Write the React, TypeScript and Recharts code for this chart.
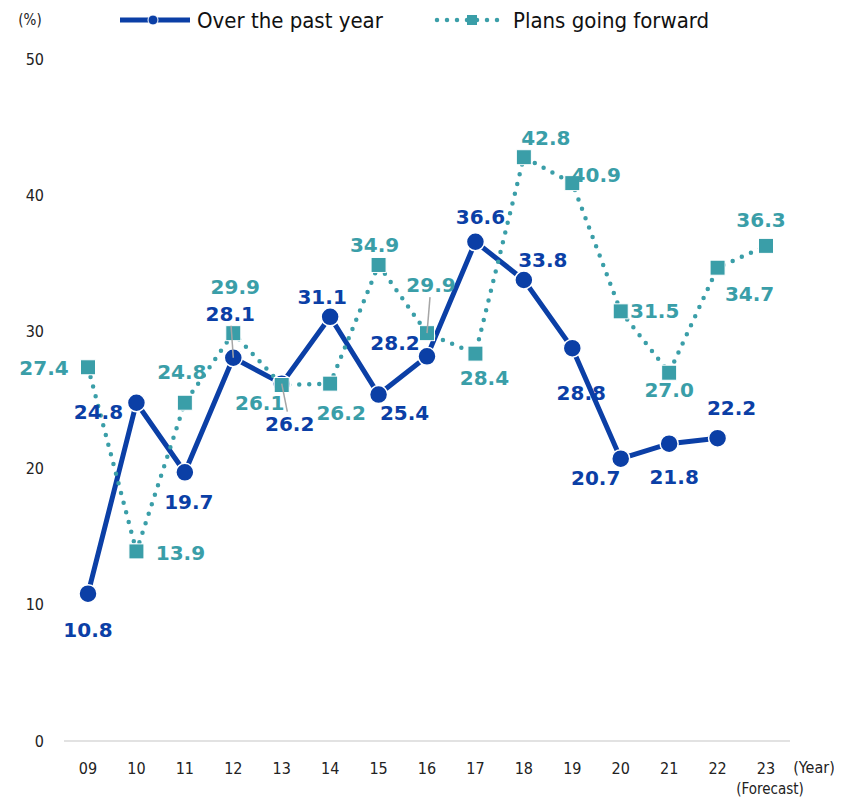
import { LineChart, Line, XAxis, YAxis, LabelList } from "recharts";

const years = ["09", "10", "11", "12", "13", "14", "15", "16", "17", "18", "19", "20", "21", "22", "23"];
const pastYear = [10.8, 24.8, 19.7, 28.1, 26.2, 31.1, 25.4, 28.2, 36.6, 33.8, 28.8, 20.7, 21.8, 22.2, null];
const goingForward = [27.4, 13.9, 24.8, 29.9, 26.1, 26.2, 34.9, 29.9, 28.4, 42.8, 40.9, 31.5, 27.0, 34.7, 36.3];
const yTicks = [0, 10, 20, 30, 40, 50];

// label placement relative to the point [dx, dy, leader line]
const pastLabelPos: [number, number, boolean][] = [
    [0, 36, false], [-38, 9, false], [4, 30, false], [-3, -44, true], [8, 40, true],
    [-8, -20, false], [26, 18, false], [-32, -13, false], [5, -25, false], [19, -20, false],
    [9, 45, false], [-25, 19, false], [5, 33, false], [14, -30, false], [0, 0, false],
]
const forwardLabelPos: [number, number, boolean][] = [
    [-44, 1, false], [44, 2, false], [-3, -31, false], [2, -46, false], [-22, 18, false],
    [11, 29, false], [-4, -20, false], [4, -48, true], [9, 24, false], [22, -19, false],
    [24, -8, false], [34, 0, false], [0, 17, false], [32, 26, false], [-5, -26, false],
]

const BLUE = "#0b3fa6"
const TEAL = "#3a9ea8"

const data = years.map((y, i) => ({ year: y, past: pastYear[i], forward: goingForward[i] }))

const makeLabel = (pos: [number, number, boolean][], color: string) => (props: any) => {
    const { x, y, value, index } = props
    if (value == null) return null
    const [dx, dy, leader] = pos[index]
    let line = null
    if (leader) {
        const k = 1 - 12 / Math.abs(dy)
        line = <line x1={x} y1={y} x2={x + dx * k} y2={y + dy * k} stroke="#a6a6a6" strokeWidth={1.5} />
    }
    return (
        <g>
            {line}
            <text x={x + dx} y={y + dy} textAnchor="middle" dominantBaseline="central"
                fill={color} fontSize={20} fontWeight="bold" fontFamily="DejaVu Sans, Verdana, sans-serif">
                {Number(value).toFixed(1)}
            </text>
        </g>
    )
}

const CircleDot = (props: any) => {
    const { cx, cy, value } = props
    if (value == null || cx == null) return <g />
    return <circle cx={cx} cy={cy} r={9} fill={BLUE} stroke="#fff" strokeWidth={1.5} />
}

const SquareDot = (props: any) => {
    const { cx, cy, value } = props
    if (value == null || cx == null) return <g />
    return <rect x={cx - 7.5} y={cy - 7.5} width={15} height={15} fill={TEAL} stroke="#fff" strokeWidth={1} />
}

const FONT = "DejaVu Sans Condensed, DejaVu Sans, sans-serif"
const tickFont = { fontSize: 16, fill: "#222", fontFamily: FONT }

const App = () => {
    return (
        <div style={{ position: "relative", width: 834, height: 791 }}>
            <LineChart width={834} height={791} data={data}
                margin={{ top: 51, right: 52, left: 0, bottom: 28 }}>
                <XAxis
                    dataKey="year"
                    interval={0}
                    padding={{ left: 24, right: 24 }}
                    axisLine={{ stroke: "#d9d9d9", strokeWidth: 1.5 }}
                    tickLine={false}
                    tick={tickFont}
                    tickMargin={16}
                    height={30}
                />
                <YAxis
                    domain={[0, 50]}
                    ticks={yTicks}
                    axisLine={false}
                    tickLine={false}
                    tick={tickFont}
                    tickMargin={14}
                    width={56}
                />
                <Line dataKey="past" stroke={BLUE} strokeWidth={5} dot={<CircleDot />}
                    activeDot={false} isAnimationActive={false}>
                    <LabelList dataKey="past" content={makeLabel(pastLabelPos, BLUE)} />
                </Line>
                <Line dataKey="forward" stroke={TEAL} strokeWidth={4.5} strokeDasharray="0 10"
                    strokeLinecap="round" dot={<SquareDot />} activeDot={false} isAnimationActive={false}>
                    <LabelList dataKey="forward" content={makeLabel(forwardLabelPos, TEAL)} />
                </Line>
            </LineChart>
            <svg width={834} height={791} style={{ position: "absolute", left: 0, top: 0, pointerEvents: "none" }}>
                <g fontFamily={FONT}>
                    <text x={22} y={12} textAnchor="middle" dominantBaseline="central" fontSize={15} fill="#222">(%)</text>
                    <text x={806} y={759} textAnchor="middle" dominantBaseline="central" fontSize={16} fill="#222">(Year)</text>
                    <text x={762} y={781} textAnchor="middle" dominantBaseline="central" fontSize={15} fill="#222">(Forecast)</text>
                    <line x1={112} y1={12} x2={182} y2={12} stroke={BLUE} strokeWidth={5} />
                    <circle cx={145} cy={12} r={5} fill={BLUE} stroke="#fff" strokeWidth={1} />
                    <text x={189} y={12} dominantBaseline="central" fontSize={22} fill="#111">Over the past year</text>
                    <line x1={429} y1={12} x2={497} y2={12} stroke={TEAL} strokeWidth={4.5} strokeDasharray="0 10" strokeLinecap="round" />
                    <rect x={459} y={7} width={10} height={10} fill={TEAL} />
                    <text x={505} y={12} dominantBaseline="central" fontSize={22} fill="#111">Plans going forward</text>
                </g>
            </svg>
        </div>
    )
}

export default App
